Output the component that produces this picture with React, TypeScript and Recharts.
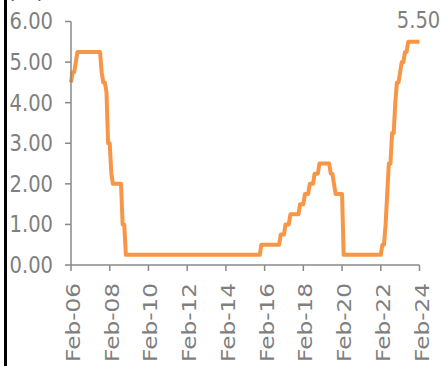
import React from 'react'
import { LineChart, Line, XAxis, YAxis, LabelList } from 'recharts'

// month index 0 = Feb-06, 216 = Feb-24
const tickMonths = [0, 24, 48, 72, 96, 120, 144, 168, 192, 216]
const tickLabels = ['Feb-06', 'Feb-08', 'Feb-10', 'Feb-12', 'Feb-14', 'Feb-16', 'Feb-18', 'Feb-20', 'Feb-22', 'Feb-24']
const yTicks = [0, 1, 2, 3, 4, 5, 6]

// policy rate (%), month-end, one row per calendar year
const rates = [
  4.5, 4.75, 4.75, 5.0, 5.25, 5.25, 5.25, 5.25, 5.25, 5.25, 5.25, // 2006 (Feb-Dec)
  5.25, 5.25, 5.25, 5.25, 5.25, 5.25, 5.25, 5.25, 4.75, 4.5, 4.5, 4.25, // 2007
  3.0, 3.0, 2.25, 2.0, 2.0, 2.0, 2.0, 2.0, 2.0, 1.0, 1.0, 0.25, // 2008
  0.25, 0.25, 0.25, 0.25, 0.25, 0.25, 0.25, 0.25, 0.25, 0.25, 0.25, 0.25, // 2009
  0.25, 0.25, 0.25, 0.25, 0.25, 0.25, 0.25, 0.25, 0.25, 0.25, 0.25, 0.25, // 2010
  0.25, 0.25, 0.25, 0.25, 0.25, 0.25, 0.25, 0.25, 0.25, 0.25, 0.25, 0.25, // 2011
  0.25, 0.25, 0.25, 0.25, 0.25, 0.25, 0.25, 0.25, 0.25, 0.25, 0.25, 0.25, // 2012
  0.25, 0.25, 0.25, 0.25, 0.25, 0.25, 0.25, 0.25, 0.25, 0.25, 0.25, 0.25, // 2013
  0.25, 0.25, 0.25, 0.25, 0.25, 0.25, 0.25, 0.25, 0.25, 0.25, 0.25, 0.25, // 2014
  0.25, 0.25, 0.25, 0.25, 0.25, 0.25, 0.25, 0.25, 0.25, 0.25, 0.25, 0.5, // 2015
  0.5, 0.5, 0.5, 0.5, 0.5, 0.5, 0.5, 0.5, 0.5, 0.5, 0.5, 0.75, // 2016
  0.75, 0.75, 1.0, 1.0, 1.0, 1.25, 1.25, 1.25, 1.25, 1.25, 1.25, 1.5, // 2017
  1.5, 1.5, 1.75, 1.75, 1.75, 2.0, 2.0, 2.0, 2.25, 2.25, 2.25, 2.5, // 2018
  2.5, 2.5, 2.5, 2.5, 2.5, 2.5, 2.25, 2.25, 2.0, 1.75, 1.75, 1.75, // 2019
  1.75, 1.75, 0.25, 0.25, 0.25, 0.25, 0.25, 0.25, 0.25, 0.25, 0.25, 0.25, // 2020
  0.25, 0.25, 0.25, 0.25, 0.25, 0.25, 0.25, 0.25, 0.25, 0.25, 0.25, 0.25, // 2021
  0.25, 0.25, 0.5, 0.5, 1.0, 1.75, 2.5, 2.5, 3.25, 3.25, 4.0, 4.5, // 2022
  4.5, 4.75, 5.0, 5.0, 5.25, 5.25, 5.5, 5.5, 5.5, 5.5, 5.5, 5.5, // 2023
  5.5, 5.5, // 2024 (Jan-Feb)
]

const data = rates.map((r, i) => ({ m: i, r }))

const GREY = '#7f7f7f'
const AXIS = '#898989'
const ORANGE = '#F79646'
const STRETCH = 1.16

const YTick = (props: any) => {
  const { x, y, payload } = props
  return (
    <g transform={`translate(${x},${y}) scale(1,${STRETCH})`}>
      <text x={0} y={0} dy="0.35em" textAnchor="end" fill={GREY} fontSize={19.5} fontFamily="DejaVu Sans">
        {payload.value.toFixed(2)}
      </text>
    </g>
  )
}

const XTick = (props: any) => {
  const { x, y, payload } = props
  const i = tickMonths.indexOf(payload.value)
  return (
    <g transform={`translate(${x},${y}) scale(1,${STRETCH}) rotate(-90)`}>
      <text x={0} y={0} dy={9} textAnchor="end" fill={GREY} fontSize={20} fontFamily="DejaVu Sans">
        {tickLabels[i]}
      </text>
    </g>
  )
}

const EndLabel = (props: any) => {
  const { x, y, value, index } = props
  if (index !== rates.length - 1) return null
  return (
    <g transform={`translate(${x - 1},${y - 14}) scale(1,${STRETCH})`}>
      <text x={0} y={0} textAnchor="middle" fill={GREY} fontSize={19.5} fontFamily="DejaVu Sans">
        {Number(value).toFixed(2)}
      </text>
    </g>
  )
}

export default function App() {
  return (
    <div style={{ position: 'absolute', left: 0, top: 0, width: 442, height: 366, background: '#fff', overflow: 'hidden' }}>
      <LineChart width={442} height={366} data={data} margin={{ top: 21.5, right: 22.5, left: 0, bottom: 0 }}>
        <XAxis
          dataKey="m"
          type="number"
          domain={[0, 216]}
          ticks={tickMonths}
          interval={0}
          height={101}
          tick={<XTick />}
          tickSize={6}
          tickMargin={12}
          axisLine={{ stroke: AXIS, strokeWidth: 1.5 }}
          tickLine={{ stroke: AXIS, strokeWidth: 1.5 }}
        />
        <YAxis
          domain={[0, 6]}
          ticks={yTicks}
          interval={0}
          width={71}
          tick={<YTick />}
          tickSize={6}
          tickMargin={12}
          axisLine={{ stroke: AXIS, strokeWidth: 1.5 }}
          tickLine={{ stroke: AXIS, strokeWidth: 1.5 }}
        />
        <Line
          type="linear"
          dataKey="r"
          stroke={ORANGE}
          strokeWidth={4}
          strokeLinejoin="round"
          dot={false}
          isAnimationActive={false}
        >
          <LabelList dataKey="r" content={<EndLabel />} />
        </Line>
      </LineChart>
      <svg width={442} height={8} style={{ position: 'absolute', left: 0, top: 0, zIndex: 2 }}>
        <text x={7} y={-2} fill="#595959" fontSize={22} fontFamily="DejaVu Sans">(%)</text>
      </svg>
      <div style={{ position: 'absolute', left: 4, top: 0, width: 3, height: 366, background: '#000', zIndex: 2 }} />
    </div>
  )
}
